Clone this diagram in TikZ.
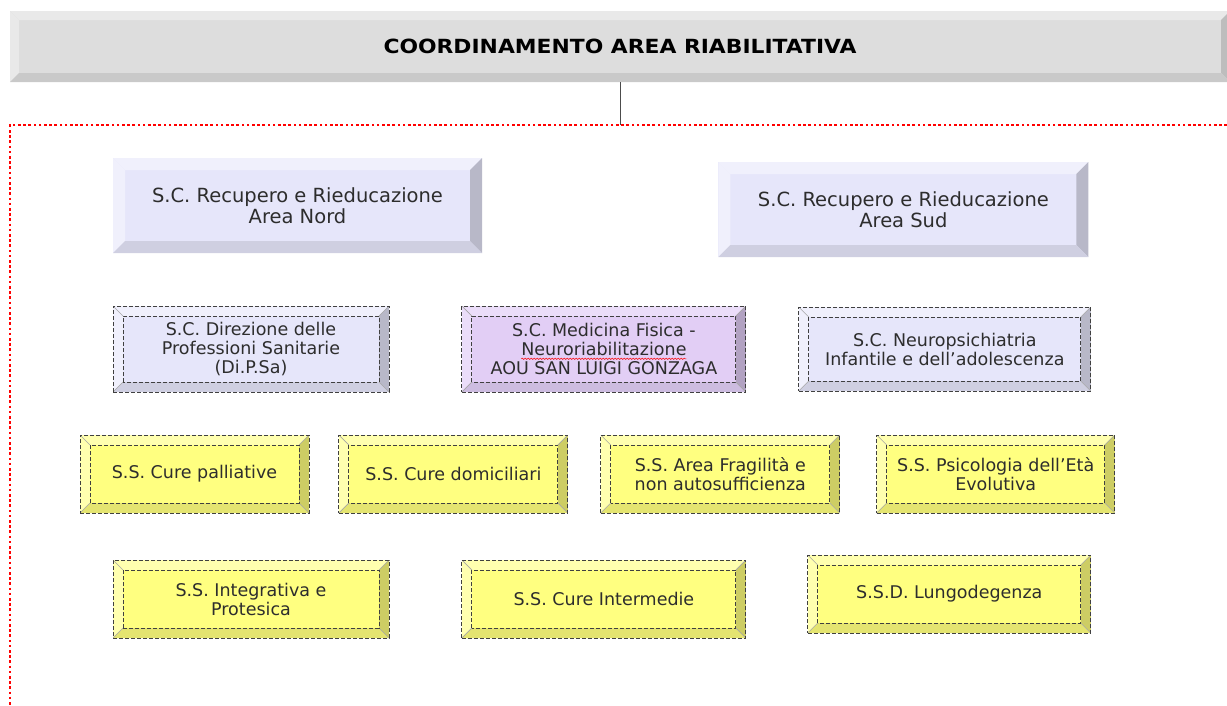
\documentclass[tikz,border=0pt]{standalone}
\usepackage{fontspec}
\setmainfont{DejaVu Sans}
\newfontfamily\titlefamily[FakeStretch=1.12]{DejaVu Sans}
\usetikzlibrary{positioning, decorations.pathmorphing}
\definecolor{textgrey}{RGB}{45,45,45}
\definecolor{lavface}{RGB}{230,230,250}
\definecolor{lavlite}{RGB}{240,240,252}
\definecolor{lavdark}{RGB}{184,184,200}
\definecolor{lavmid}{RGB}{207,207,225}
\definecolor{lilface}{RGB}{226,206,245}
\definecolor{lillite}{RGB}{235,221,249}
\definecolor{lildark}{RGB}{178,162,194}
\definecolor{lilmid}{RGB}{205,188,224}
\definecolor{yelface}{RGB}{255,255,128}
\definecolor{yellite}{RGB}{255,255,175}
\definecolor{yeldark}{RGB}{205,205,100}
\definecolor{yelmid}{RGB}{228,228,112}
\definecolor{greyface}{RGB}{221,221,221}
\definecolor{greylite}{RGB}{233,233,233}
\definecolor{greydark}{RGB}{189,189,189}
\definecolor{greymid}{RGB}{201,201,201}
\newcommand*{\boxfont}{\fontsize{17.5}{19}\selectfont}
\newcommand*{\bigboxfont}{\fontsize{19.5}{20.5}\selectfont}
\newcommand*{\titlefont}{\titlefamily\fontsize{19.5}{22}\selectfont\bfseries}
\tikzset{
    bv size/.store in=\bvsize, bv size=10pt,
    bv lite/.store in=\bvlite, bv lite=white,
    bv dark/.store in=\bvdark, bv dark=gray,
    bv mid/.store in=\bvmid, bv mid=gray,
    bv inner/.style={},
    bv diag/.style={},
}
\tikzstyle{bevel} = [rectangle, inner sep=0pt, align=center, font=\boxfont, text=textgrey,
    path picture={
        \def\pb{path picture bounding box}
        \fill [\bvlite] (\pb.north west) -- (\pb.north east) -- ([shift={(-\bvsize,-\bvsize)}]\pb.north east) -- ([shift={(\bvsize,-\bvsize)}]\pb.north west) -- cycle;
        \fill [\bvlite] (\pb.north west) -- (\pb.south west) -- ([shift={(\bvsize,\bvsize)}]\pb.south west) -- ([shift={(\bvsize,-\bvsize)}]\pb.north west) -- cycle;
        \fill [\bvdark] (\pb.north east) -- (\pb.south east) -- ([shift={(-\bvsize,\bvsize)}]\pb.south east) -- ([shift={(-\bvsize,-\bvsize)}]\pb.north east) -- cycle;
        \fill [\bvmid] (\pb.south west) -- (\pb.south east) -- ([shift={(-\bvsize,\bvsize)}]\pb.south east) -- ([shift={(\bvsize,\bvsize)}]\pb.south west) -- cycle;
        \path [bv diag] (\pb.north west) -- ([shift={(\bvsize,-\bvsize)}]\pb.north west)
            (\pb.north east) -- ([shift={(-\bvsize,-\bvsize)}]\pb.north east)
            (\pb.south west) -- ([shift={(\bvsize,\bvsize)}]\pb.south west)
            (\pb.south east) -- ([shift={(-\bvsize,\bvsize)}]\pb.south east);
        \path [bv inner] ([shift={(\bvsize,\bvsize)}]\pb.south west) rectangle ([shift={(-\bvsize,-\bvsize)}]\pb.north east);
    }]
\tikzstyle{lavbox} = [bevel, fill=lavface, bv lite=lavlite, bv dark=lavdark, bv mid=lavmid]
\tikzstyle{lilbox} = [bevel, fill=lilface, bv lite=lillite, bv dark=lildark, bv mid=lilmid]
\tikzstyle{yelbox} = [bevel, fill=yelface, bv lite=yellite, bv dark=yeldark, bv mid=yelmid]
\tikzstyle{greybox} = [bevel, fill=greyface, bv lite=greylite, bv dark=greydark, bv mid=greymid]
\tikzstyle{dashbox} = [draw=black!75, line width=0.9pt, dash pattern=on 4pt off 2pt,
    bv inner/.style={draw=black!75, line width=0.9pt, dash pattern=on 4pt off 2pt},
    bv diag/.style={draw=black!35, solid, line width=0.6pt}]
\tikzstyle{bigbox} = [minimum width=369pt, minimum height=95pt, bv size=12pt, font=\bigboxfont]
\tikzstyle{midbox} = [dashbox, minimum height=86pt]
\tikzstyle{smallbox} = [dashbox, minimum height=78pt]
\tikzstyle{frame} = [red, line width=2.6pt, dash pattern=on 2.6pt off 2.6pt]
\tikzstyle{link} = [draw=black!70, line width=1pt]
\tikzstyle{wave} = [red, line width=0.5pt, decorate, decoration={snake, amplitude=0.7pt, segment length=3pt}]
\newlength{\neurowidth}
\begin{document}
\settowidth{\neurowidth}{\boxfont Neuroriabilitazione}
\begin{tikzpicture}[x=1pt, y=-1pt]
    \useasboundingbox (0,0) rectangle (1227,705);

    % Title and frame.
    \node (title) [greybox, minimum width=1220pt, minimum height=71pt, bv size=9pt, font=\titlefont, text=black] at (620,46.5) {COORDINAMENTO AREA RIABILITATIVA};
    \coordinate (frametop) at (620,125);
    \draw [frame] (1227,125) -- (10,125) -- (10,705);
    \draw [link] (title) -- (frametop);

    % Strutture complesse.
    \node (nord) [lavbox, bigbox] at (297.5,205.5) {S.C. Recupero e Rieducazione\\Area Nord};
    \node (sud) [lavbox, bigbox, right=236pt of nord, yshift=-4pt, minimum width=370pt] {S.C. Recupero e Rieducazione\\Area Sud};

    \node (dipsa) [lavbox, midbox, minimum width=276pt] at (251,349) {S.C. Direzione delle\\Professioni Sanitarie\\(Di.P.Sa)};
    \node (medfis) [lilbox, midbox, minimum width=284pt, right=72pt of dipsa] {S.C. Medicina Fisica -\\Neuroriabilitazione\\AOU SAN LUIGI GONZAGA};
    \node (npi) [lavbox, midbox, minimum width=292pt, minimum height=84pt, right=52pt of medfis] {S.C. Neuropsichiatria\\Infantile e dell’adolescenza};
    \draw [wave] ([shift={(-0.5\neurowidth,-9.8pt)}]medfis.center) -- ([shift={(0.5\neurowidth,-9.8pt)}]medfis.center);

    % Strutture semplici.
    \node (pall) [yelbox, smallbox, minimum width=229pt] at (194.5,474) {S.S. Cure palliative};
    \node (domic) [yelbox, smallbox, minimum width=229pt, right=29pt of pall] {S.S. Cure domiciliari};
    \node (fragil) [yelbox, smallbox, minimum width=239pt, right=32pt of domic] {S.S. Area Fragilità e\\non autosufficienza};
    \node (psicol) [yelbox, smallbox, minimum width=238pt, right=36pt of fragil] {S.S. Psicologia dell’Età\\Evolutiva};

    \node (integr) [yelbox, smallbox, minimum width=276pt] at (251,599) {S.S. Integrativa e\\Protesica};
    \node (interm) [yelbox, smallbox, minimum width=284pt, right=72pt of integr] {S.S. Cure Intermedie};
    \node (lungo) [yelbox, smallbox, minimum width=283pt, right=61pt of interm, yshift=5pt] {S.S.D. Lungodegenza};
\end{tikzpicture}
\end{document}
